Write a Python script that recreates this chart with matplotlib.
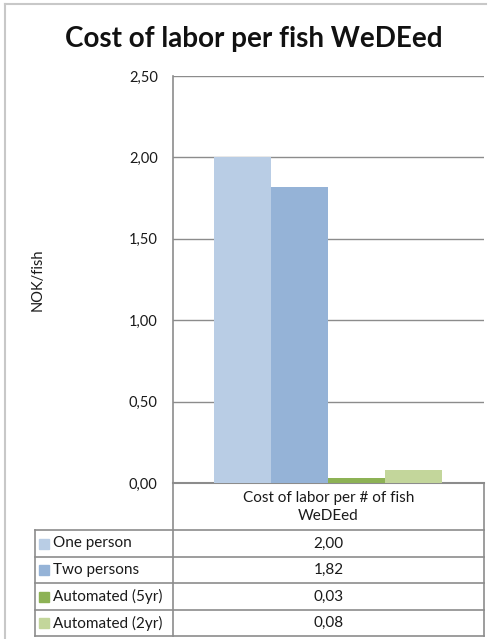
import matplotlib
matplotlib.use("Agg")
import matplotlib.pyplot as plt
from matplotlib.patches import Rectangle

# dados
series = ["One person", "Two persons", "Automated (5yr)", "Automated (2yr)"]
valores = [2.00, 1.82, 0.03, 0.08]
cores = ["#B9CDE5", "#95B3D7", "#8DB255", "#C3D69B"]
categoria = "Cost of labor per # of fish\nWeDEed"
titulo = "Cost of labor per fish WeDEed"
y_ticks = [0.0, 0.5, 1.0, 1.5, 2.0, 2.5]

plt.rcParams['font.family'] = ['Lato', 'DejaVu Sans']

W, H = 492, 639
fig = plt.figure(figsize=(W / 100, H / 100), dpi=100)

# coordenadas em pixels
def px(x0, y0, x1, y1):
    return [x0 / W, 1 - y1 / H, (x1 - x0) / W, (y1 - y0) / H]

ax_l, ax_t, ax_r, ax_b = 173, 76, 484, 483
grid_c = "#8C8C8C"
txt_c = "#1A1A1A"

ax = fig.add_axes(px(ax_l, ax_t, ax_r, ax_b))
for i, (v, c) in enumerate(zip(valores, cores)):
    ax.bar(i, v, width=1.0, color=c, zorder=3)
ax.set_xlim(-1.22, 4.24)
ax.set_ylim(0, 2.5)
ax.set_yticks(y_ticks)
ax.set_yticklabels([f"{t:.2f}".replace(".", ",") for t in y_ticks], fontsize=10.5, color=txt_c)
ax.yaxis.grid(True, color=grid_c, linewidth=1.0, zorder=0)
ax.tick_params(axis="y", length=0, pad=11)
ax.set_xticks([])
for s in ["top", "right"]:
    ax.spines[s].set_visible(False)
ax.spines["left"].set_color(grid_c)
ax.spines["bottom"].set_color(grid_c)
ax.spines["left"].set_linewidth(1.2)
ax.spines["bottom"].set_linewidth(1.5)

# camada de desenho (tabela, título, moldura)
ov = fig.add_axes([0, 0, 1, 1], facecolor="none")
ov.set_xlim(0, W)
ov.set_ylim(H, 0)
ov.axis("off")

# moldura externa
ov.plot([5, 5], [4, H], color="#C8C8C8", lw=1.5)
ov.plot([5, 486], [4, 4], color="#C8C8C8", lw=1.5)

ov.text(254, 39, titulo, ha="center", va="center", fontsize=20, fontweight="bold", color="#111111")
ov.text(38, 280, "NOK/fish", ha="center", va="center", rotation=90, fontsize=10.5, color=txt_c)

# tabela de dados
tab_l = 35
linhas_y = [530, 557, 583, 610, 636]
lc = "#8C8C8C"
ov.plot([ax_l, ax_l], [ax_b, linhas_y[-1]], color=lc, lw=1.2)
ov.plot([ax_r, ax_r], [ax_b, linhas_y[-1]], color=lc, lw=1.2)
ov.plot([tab_l, tab_l], [linhas_y[0], linhas_y[-1]], color=lc, lw=1.2)
for y in linhas_y:
    ov.plot([tab_l, ax_r], [y, y], color=lc, lw=1.2)

ov.text((ax_l + ax_r) / 2, 507, categoria, ha="center", va="center", fontsize=11,
        color=txt_c, linespacing=1.35)

for i, (nome, v, c) in enumerate(zip(series, valores, cores)):
    yc = (linhas_y[i] + linhas_y[i + 1]) / 2
    ov.add_patch(Rectangle((39, yc - 5), 10, 10, color=c))
    ov.text(53, yc, nome, ha="left", va="center", fontsize=11, color=txt_c)
    ov.text((ax_l + ax_r) / 2, yc, f"{v:.2f}".replace(".", ","), ha="center", va="center",
            fontsize=11, color=txt_c)

fig.savefig("out.png", dpi=100)
